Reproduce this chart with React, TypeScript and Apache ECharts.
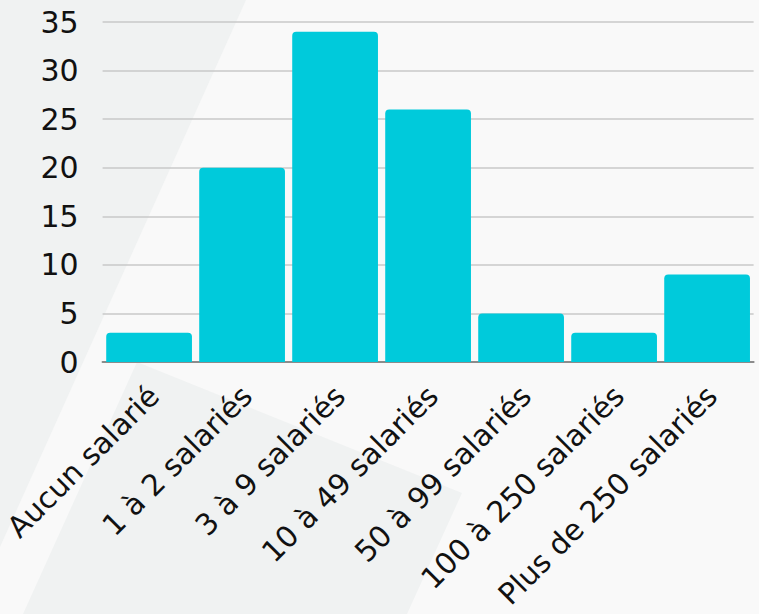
import React, { useEffect, useRef } from "react";
import * as echarts from "echarts";

const categories = [
  "Aucun salarié",
  "1 à 2 salariés",
  "3 à 9 salariés",
  "10 à 49 salariés",
  "50 à 99 salariés",
  "100 à 250 salariés",
  "Plus de 250 salariés",
];
const values = [3, 20, 34, 26, 5, 3, 9];

const FONT = "'DejaVu Sans', sans-serif";

export default function App() {
  const ref = useRef<HTMLDivElement>(null);
  useEffect(() => {
    if (!ref.current) return;
    const chart = echarts.init(ref.current, null, { renderer: "svg" });
    chart.setOption({
      animation: false,
      backgroundColor: "#f9f9f9",
      graphic: [
        {
          type: "polygon",
          z: -10,
          silent: true,
          shape: { points: [[0, 0], [246, 0], [0, 547]] },
          style: { fill: "#f0f2f2" },
        },
        {
          type: "polygon",
          z: -10,
          silent: true,
          shape: { points: [[137, 362], [462, 493], [407, 614], [23, 614]] },
          style: { fill: "#f0f2f2" },
        },
      ],
      grid: { left: 100.4, right: 5.4, top: 22, bottom: 252, containLabel: false },
      xAxis: {
        type: "category",
        data: categories,
        axisLine: { show: true, lineStyle: { color: "#8c8c8c", width: 2 } },
        axisTick: { show: false },
        axisLabel: {
          rotate: 45,
          interval: 0,
          margin: 34,
          padding: [0, -7, 0, 0],
          color: "#111",
          fontFamily: FONT,
          fontSize: 29.5,
        },
      },
      yAxis: {
        type: "value",
        min: 0,
        max: 35,
        interval: 5,
        axisLine: { show: false },
        axisTick: { show: false },
        splitLine: { lineStyle: { color: "#c8c8c8", width: 1.5 } },
        axisLabel: {
          margin: 24,
          color: "#111",
          fontFamily: FONT,
          fontSize: 30,
        },
      },
      series: [
        {
          type: "bar",
          data: values,
          barCategoryGap: "7.8%",
          itemStyle: { color: "#00cadb", borderRadius: [4, 4, 0, 0] },
        },
      ],
    });
    return () => chart.dispose();
  }, []);
  return (
    <div
      ref={ref}
      style={{ position: "fixed", left: 0, top: 0, width: 759, height: 614 }}
    />
  );
}
